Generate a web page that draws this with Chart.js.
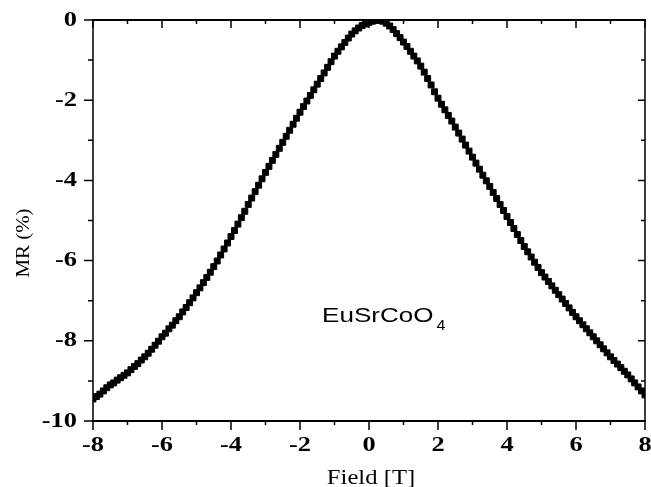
<!DOCTYPE html>
<html>
<head>
<meta charset="utf-8">
<script src="https://cdn.jsdelivr.net/npm/chart.js@4/dist/chart.umd.min.js"></script>
<style>
html,body{margin:0;padding:0;background:#fff;}
#wrap{width:651px;height:487px;position:relative;}
</style>
</head>
<body>
<div id="wrap"><canvas id="c" width="651" height="487"></canvas></div>
<script>
// Field values (T)
const fieldT = [
-8.0,-7.9,-7.8,-7.7,-7.6,-7.5,-7.4,-7.3,-7.2,-7.1,
-7.0,-6.9,-6.8,-6.7,-6.6,-6.5,-6.4,-6.3,-6.2,-6.1,
-6.0,-5.9,-5.8,-5.7,-5.6,-5.5,-5.4,-5.3,-5.2,-5.1,
-5.0,-4.9,-4.8,-4.7,-4.6,-4.5,-4.4,-4.3,-4.2,-4.1,
-4.0,-3.9,-3.8,-3.7,-3.6,-3.5,-3.4,-3.3,-3.2,-3.1,
-3.0,-2.9,-2.8,-2.7,-2.6,-2.5,-2.4,-2.3,-2.2,-2.1,
-2.0,-1.9,-1.8,-1.7,-1.6,-1.5,-1.4,-1.3,-1.2,-1.1,
-1.0,-0.9,-0.8,-0.7,-0.6,-0.5,-0.4,-0.3,-0.2,-0.1,
0.0,0.1,0.2,0.3,0.4,0.5,0.6,0.7,0.8,0.9,
1.0,1.1,1.2,1.3,1.4,1.5,1.6,1.7,1.8,1.9,
2.0,2.1,2.2,2.3,2.4,2.5,2.6,2.7,2.8,2.9,
3.0,3.1,3.2,3.3,3.4,3.5,3.6,3.7,3.8,3.9,
4.0,4.1,4.2,4.3,4.4,4.5,4.6,4.7,4.8,4.9,
5.0,5.1,5.2,5.3,5.4,5.5,5.6,5.7,5.8,5.9,
6.0,6.1,6.2,6.3,6.4,6.5,6.6,6.7,6.8,6.9,
7.0,7.1,7.2,7.3,7.4,7.5,7.6,7.7,7.8,7.9,
8.0];
// MR values (%)
const mrPct = [
-9.45,-9.39,-9.33,-9.25,-9.17,-9.10,-9.05,-8.98,-8.92,-8.86,
-8.80,-8.72,-8.64,-8.57,-8.48,-8.40,-8.31,-8.21,-8.11,-8.01,
-7.90,-7.81,-7.70,-7.61,-7.50,-7.40,-7.28,-7.17,-7.05,-6.93,
-6.80,-6.68,-6.55,-6.42,-6.29,-6.15,-6.01,-5.86,-5.71,-5.56,
-5.40,-5.25,-5.09,-4.93,-4.77,-4.60,-4.44,-4.28,-4.12,-3.96,
-3.80,-3.65,-3.50,-3.35,-3.20,-3.05,-2.90,-2.75,-2.60,-2.45,
-2.30,-2.16,-2.02,-1.88,-1.74,-1.60,-1.46,-1.32,-1.18,-1.04,
-0.90,-0.78,-0.67,-0.56,-0.45,-0.35,-0.27,-0.20,-0.14,-0.10,
-0.06,-0.03,-0.01,0.00,-0.03,-0.08,-0.15,-0.24,-0.34,-0.44,
-0.55,-0.66,-0.78,-0.90,-1.02,-1.15,-1.30,-1.46,-1.62,-1.79,
-1.95,-2.10,-2.24,-2.38,-2.52,-2.67,-2.82,-2.97,-3.12,-3.27,
-3.42,-3.57,-3.72,-3.87,-4.01,-4.15,-4.30,-4.45,-4.60,-4.75,
-4.90,-5.05,-5.20,-5.35,-5.50,-5.65,-5.78,-5.91,-6.04,-6.17,
-6.30,-6.41,-6.52,-6.63,-6.74,-6.85,-6.96,-7.07,-7.18,-7.29,
-7.40,-7.50,-7.60,-7.70,-7.80,-7.90,-8.00,-8.10,-8.20,-8.30,
-8.40,-8.49,-8.58,-8.67,-8.76,-8.85,-8.95,-9.05,-9.15,-9.25,
-9.35];
const xTickValues = [-8,-6,-4,-2,0,2,4,6,8];
const yTickValues = [0,-2,-4,-6,-8,-10];
const xMinorValues = [-7,-5,-3,-1,1,3,5,7];
const yMinorValues = [-1,-3,-5,-7,-9];
const xTitle = 'Field [T]';
const yTitle = 'MR (%)';
const sampleName = 'EuSrCoO';
const sampleSub = '4';
const labelAt = {x: -1.36, y: -7.53};

const points = fieldT.map((v, i) => ({x: v, y: mrPct[i]}));

const SERIF = '"Liberation Serif", "Times New Roman", serif';
const SANS = '"Liberation Sans", Arial, sans-serif';

function stretchedText(ctx, text, x, y, sx, align) {
  const w = ctx.measureText(text).width * sx;
  let x0 = x;
  if (align === 'center') x0 = x - w / 2;
  else if (align === 'right') x0 = x - w;
  ctx.save();
  ctx.translate(x0, y);
  ctx.scale(sx, 1);
  ctx.textAlign = 'left';
  ctx.fillText(text, 0, 0);
  ctx.restore();
  return w;
}

const framePlugin = {
  id: 'frame',
  afterDraw(chart) {
    const {ctx, chartArea: a, scales: {x, y}} = chart;
    ctx.save();
    ctx.strokeStyle = '#000';
    ctx.fillStyle = '#000';
    ctx.lineCap = 'butt';
    // spines
    ctx.lineWidth = 2;
    ctx.beginPath();
    ctx.moveTo(a.left - 1, a.top); ctx.lineTo(a.right + 1, a.top);
    ctx.moveTo(a.left - 1, a.bottom); ctx.lineTo(a.right + 1, a.bottom);
    ctx.stroke();
    ctx.lineWidth = 1.5;
    ctx.beginPath();
    ctx.moveTo(a.left, a.top); ctx.lineTo(a.left, a.bottom);
    ctx.moveTo(a.right, a.top); ctx.lineTo(a.right, a.bottom);
    ctx.stroke();
    // ticks
    ctx.lineWidth = 1.5;
    ctx.beginPath();
    xTickValues.forEach(v => {
      const px = x.getPixelForValue(v);
      ctx.moveTo(px, a.bottom); ctx.lineTo(px, a.bottom + 9);
      ctx.moveTo(px, a.top); ctx.lineTo(px, a.top + 8);
    });
    xMinorValues.forEach(v => {
      const px = x.getPixelForValue(v);
      ctx.moveTo(px, a.bottom); ctx.lineTo(px, a.bottom + 4);
      ctx.moveTo(px, a.top); ctx.lineTo(px, a.top + 4);
    });
    yTickValues.forEach(v => {
      const py = y.getPixelForValue(v);
      ctx.moveTo(a.left, py); ctx.lineTo(a.left - 9, py);
      ctx.moveTo(a.right, py); ctx.lineTo(a.right - 7, py);
    });
    yMinorValues.forEach(v => {
      const py = y.getPixelForValue(v);
      ctx.moveTo(a.left, py); ctx.lineTo(a.left - 5, py);
      ctx.moveTo(a.right, py); ctx.lineTo(a.right - 4, py);
    });
    ctx.stroke();
    // tick labels
    ctx.font = 'bold 22px ' + SERIF;
    ctx.textBaseline = 'middle';
    xTickValues.forEach(v => {
      stretchedText(ctx, String(v), x.getPixelForValue(v), a.bottom + 24, 1.2, 'center');
    });
    yTickValues.forEach(v => {
      stretchedText(ctx, String(v), a.left - 16, y.getPixelForValue(v), 1.2, 'right');
    });
    // titles
    ctx.font = '22px ' + SERIF;
    stretchedText(ctx, xTitle, (a.left + a.right) / 2 + 2, 478, 1.12, 'center');
    ctx.save();
    ctx.translate(24, 243);
    ctx.rotate(-Math.PI / 2);
    ctx.font = '19px ' + SERIF;
    stretchedText(ctx, yTitle, 0, 0, 1.1, 'center');
    ctx.restore();
    // sample label
    const lx = x.getPixelForValue(labelAt.x);
    const ly = y.getPixelForValue(labelAt.y);
    ctx.font = '21px ' + SANS;
    ctx.textBaseline = 'alphabetic';
    const w = stretchedText(ctx, sampleName, lx, ly, 1.24, 'left');
    ctx.font = '14px ' + SANS;
    stretchedText(ctx, sampleSub, lx + w + 3, ly + 8, 1.15, 'left');
    ctx.restore();
  }
};

new Chart(document.getElementById('c'), {
  type: 'scatter',
  data: {
    datasets: [{
      data: points,
      pointStyle: 'rect',
      pointRadius: 4.2,
      pointBorderWidth: 1,
      backgroundColor: '#000',
      borderColor: '#000',
      showLine: false
    }]
  },
  options: {
    responsive: false,
    animation: false,
    devicePixelRatio: 1,
    layout: {padding: {top: 20, right: 6, left: 0, bottom: 0}},
    plugins: {legend: {display: false}, tooltip: {enabled: false}},
    scales: {
      x: {
        type: 'linear', min: -8, max: 8,
        afterFit(s) { s.height = 66; s.paddingLeft = 0; s.paddingRight = 0; },
        grid: {display: false, drawTicks: false},
        border: {display: false},
        ticks: {display: false, stepSize: 2}
      },
      y: {
        type: 'linear', min: -10, max: 0,
        afterFit(s) { s.width = 93; s.paddingTop = 0; s.paddingBottom = 0; },
        grid: {display: false, drawTicks: false},
        border: {display: false},
        ticks: {display: false, stepSize: 2}
      }
    }
  },
  plugins: [framePlugin]
});
</script>
</body>
</html>
